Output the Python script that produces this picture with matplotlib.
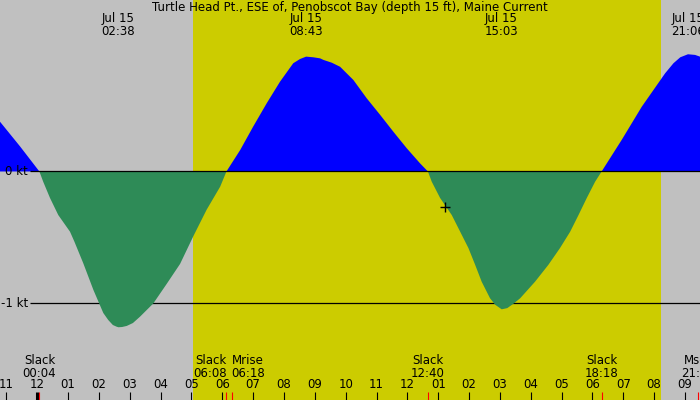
import matplotlib
matplotlib.use('Agg')
import matplotlib.pyplot as plt
import numpy as np

title = "Turtle Head Pt., ESE of, Penobscot Bay (depth 15 ft), Maine Current"

# current speed (kt) vs hours after midnight, Jul 15
hours = [-1.21, -0.56, 0.067, 0.19, 0.41, 0.68, 1.06, 1.20, 1.49, 1.82, 2.14, 2.30, 2.45,
         2.575, 2.633, 2.75, 2.90, 3.10, 3.33, 3.76, 4.20, 4.63, 5.06, 5.49, 5.93, 6.133,
         6.58, 7.00, 7.44, 7.87, 8.30, 8.52, 8.717, 8.95, 9.17, 9.28, 9.55, 9.82, 10.25,
         10.68, 11.12, 11.55, 11.98, 12.41, 12.667,
         12.79, 13.06, 13.44, 13.71, 13.98, 14.20, 14.41, 14.68, 14.85, 15.06, 15.24, 15.45,
         15.66, 16.14, 16.57, 16.95, 17.28, 17.55, 17.82, 18.09, 18.30,
         18.95, 19.60, 19.98, 20.36, 20.63, 20.85, 21.10, 21.33, 21.49]
knots = [0.377, 0.19, 0.0, -0.077, -0.20, -0.33, -0.456, -0.53, -0.695, -0.898, -1.072, -1.125, -1.163,
         -1.176, -1.18, -1.178, -1.17, -1.148, -1.10, -1.00, -0.85, -0.70, -0.49, -0.29, -0.115, 0.0,
         0.163, 0.34, 0.517, 0.68, 0.82, 0.852, 0.87, 0.865, 0.857, 0.845, 0.824, 0.793, 0.693,
         0.555, 0.428, 0.30, 0.176, 0.062, 0.0,
         -0.077, -0.20, -0.33, -0.455, -0.58, -0.708, -0.835, -0.96, -1.01, -1.044, -1.035, -1.00,
         -0.96, -0.835, -0.708, -0.58, -0.456, -0.33, -0.20, -0.077, 0.0,
         0.239, 0.49, 0.617, 0.744, 0.82, 0.865, 0.888, 0.883, 0.87]

sunrise = 5.05
sunset = 20.23

peak_hours = [2.633, 8.717, 15.05, 21.10]
peak_labels = ["Jul 15\n02:38", "Jul 15\n08:43", "Jul 15\n15:03", "Jul 15\n21:06"]

event_hours = [0.067, 6.133, 6.30, 12.667, 18.30, 21.43]
event_labels = ["Slack\n00:04", "Slack\n06:08", "Mrise\n06:18", "Slack\n12:40", "Slack\n18:18", "Mset\n21:26"]
event_align = ['center', 'right', 'left', 'center', 'center', 'center']

hour_ticks = list(range(-1, 22))
hour_labels = ['%02d' % ((h % 12) or 12) for h in hour_ticks]

now_hour, now_knots = 13.22, -0.267

GRAY = '#c0c0c0'
YELLOW = '#cccc00'
W, H = 700, 400
FS = 8.5

fig = plt.figure(figsize=(7, 4), dpi=100, facecolor=GRAY)
ax = fig.add_axes([0, 0, 1, 1], facecolor=GRAY)
ax.set_xlim(-1.21, 21.49)
ax.set_ylim(-1.731, 1.299)
for s in ax.spines.values():
    s.set_visible(False)
ax.set_xticks([])
ax.set_yticks([])

xt = ax.get_xaxis_transform()
yt = ax.get_yaxis_transform()

ax.axvspan(sunrise, sunset, color=YELLOW, lw=0, zorder=0)

# -1 kt line sits under the fill, 0 kt line on top
ax.hlines(-1, 30 / W, 1, transform=yt, color='black', lw=0.9, zorder=1)
k = np.array(knots)
ax.fill_between(hours, k, 0, where=k >= 0, interpolate=True, color='#0000ff', lw=0, zorder=2)
ax.fill_between(hours, k, 0, where=k <= 0, interpolate=True, color='#2e8b57', lw=0, zorder=2)
ax.hlines(0, 30 / W, 1, transform=yt, color='black', lw=0.9, zorder=3)

ax.text(28 / W, 0, '0 kt', transform=yt, ha='right', va='center', fontsize=FS, zorder=4)
ax.text(28 / W, -1, '-1 kt', transform=yt, ha='right', va='center', fontsize=FS, zorder=4)

ax.text(0.5, 1 - 8 / H, title, transform=ax.transAxes, ha='center', va='center', fontsize=FS)

for h, lab in zip(peak_hours, peak_labels):
    ax.text(h, 1 - 25 / H, lab, transform=xt, ha='center', va='center',
            fontsize=FS, linespacing=1.0)

for h, lab, al in zip(event_hours, event_labels, event_align):
    ax.text(h, 1 - 367 / H, lab, transform=xt, ha=al, va='center',
            fontsize=FS, linespacing=1.0)

for h, lab in zip(hour_ticks, hour_labels):
    ax.text(h, 1 - 385 / H, lab, transform=xt, ha='center', va='center', fontsize=FS)
    ax.vlines(h, 0, 8 / H, transform=xt, color='black', lw=2.2 if h == 0 else 0.8)

ax.vlines(event_hours, 0, 8 / H, transform=xt, color='red', lw=0.8)

ax.plot(now_hour, now_knots, marker='+', ms=7, mew=1, color='black', zorder=5)

fig.savefig('out.png', dpi=100, facecolor=GRAY)
